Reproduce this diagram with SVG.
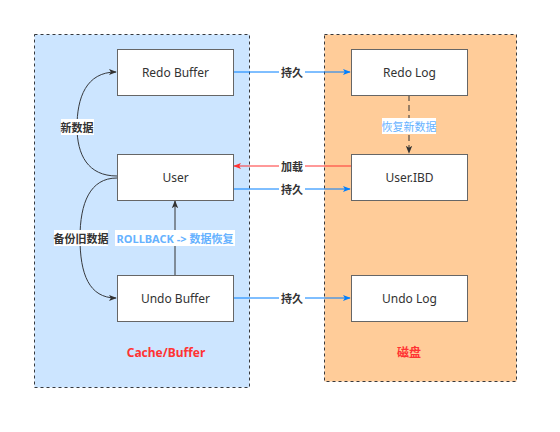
<svg xmlns="http://www.w3.org/2000/svg" width="560" height="432" viewBox="0 0 560 432">
<style>
.cont{stroke:#36393d;stroke-width:1;stroke-dasharray:3 3}
.box rect{fill:#fff;stroke:#666;stroke-width:1}
.box text{font-family:"Noto Sans","Noto Sans CJK SC",sans-serif;font-size:12px;fill:#333;text-anchor:middle;dominant-baseline:central}
.lbl{font-family:"Noto Sans","Noto Sans CJK SC",sans-serif;font-size:11px;text-anchor:middle;dominant-baseline:central}
.b{font-weight:bold}
.dark{fill:#333}
.blue{fill:#66B2FF}
.red{fill:#FF3333}
.e{fill:none;stroke-width:1}
</style>
<defs>
<marker id="ad" viewBox="0 0 10 10" refX="9" refY="5" markerWidth="8" markerHeight="8" orient="auto" markerUnits="userSpaceOnUse"><path d="M0,1 L10,5 L0,9 L2.5,5 Z" fill="#333"/></marker>
<marker id="ab" viewBox="0 0 10 10" refX="9" refY="5" markerWidth="8" markerHeight="8" orient="auto" markerUnits="userSpaceOnUse"><path d="M0,1 L10,5 L0,9 L2.5,5 Z" fill="#007FFF"/></marker>
<marker id="ar" viewBox="0 0 10 10" refX="9" refY="5" markerWidth="8" markerHeight="8" orient="auto" markerUnits="userSpaceOnUse"><path d="M0,1 L10,5 L0,9 L2.5,5 Z" fill="#FF3333"/></marker>
</defs>
<g id="cache">
<rect class="cont" x="34.5" y="34.5" width="215" height="353" fill="#cce5ff"/>
<text class="lbl b red" x="166" y="352" style="font-size:12px">Cache/Buffer</text>
</g>
<g id="disk">
<rect class="cont" x="324.5" y="34.5" width="192" height="347" fill="#ffcc99"/>
<text class="lbl b red" x="409" y="352" style="font-size:12px">磁盘</text>
</g>
<g id="connectors">
<path class="e" stroke="#007FFF" d="M233,72 H350" marker-end="url(#ab)"/>
<path class="e" stroke="#FF3333" d="M351,166 H234" marker-end="url(#ar)"/>
<path class="e" stroke="#007FFF" d="M233,189 H350" marker-end="url(#ab)"/>
<path class="e" stroke="#007FFF" d="M233,298 H350" marker-end="url(#ab)"/>
<path class="e" stroke="#333" stroke-dasharray="6 4" d="M409,95 V153" marker-end="url(#ad)"/>
<path class="e" stroke="#333" d="M175,275 V201" marker-end="url(#ad)"/>
<path class="e" stroke="#36393d" d="M117,176 C88,176 77,155 77,127 C77,98 86,72 116,72" marker-end="url(#ad)"/>
<path class="e" stroke="#36393d" d="M117,178 C90,178 80,203 80,238 C80,274 89,298 116,298" marker-end="url(#ad)"/>
<rect x="279" y="64" width="26" height="16" fill="#fff"/>
<text class="lbl b dark" x="292" y="72">持久</text>
<rect x="279" y="158" width="26" height="16" fill="#fff"/>
<text class="lbl b dark" x="292" y="166">加载</text>
<rect x="279" y="181" width="26" height="16" fill="#fff"/>
<text class="lbl b dark" x="292" y="189">持久</text>
<rect x="279" y="290" width="26" height="16" fill="#fff"/>
<text class="lbl b dark" x="292" y="298">持久</text>
<rect x="382" y="118" width="54" height="16" fill="#fff"/>
<text class="lbl blue" x="409" y="126">恢复新数据</text>
<rect x="61" y="119" width="33" height="16" fill="#fff"/>
<text class="lbl b dark" x="77" y="127">新数据</text>
<rect x="54" y="230" width="54" height="16" fill="#fff"/>
<text class="lbl b dark" x="81" y="238">备份旧数据</text>
<rect x="115" y="230" width="120" height="16" fill="#fff"/>
<text class="lbl b blue" x="175" y="238">ROLLBACK -&gt; 数据恢复</text>
</g>
<g id="redo-buffer" class="box"><rect x="117.5" y="49.5" width="116" height="46"/><text x="175.5" y="72.5">Redo Buffer</text></g>
<g id="user" class="box"><rect x="117.5" y="154.5" width="116" height="46"/><text x="175.5" y="177.5">User</text></g>
<g id="undo-buffer" class="box"><rect x="117.5" y="275.5" width="116" height="46"/><text x="175.5" y="298.5">Undo Buffer</text></g>
<g id="redo-log" class="box"><rect x="351.5" y="49.5" width="116" height="46"/><text x="409.5" y="72.5">Redo Log</text></g>
<g id="user-ibd" class="box"><rect x="351.5" y="154.5" width="116" height="46"/><text x="409.5" y="177.5">User.IBD</text></g>
<g id="undo-log" class="box"><rect x="351.5" y="275.5" width="116" height="46"/><text x="409.5" y="298.5">Undo Log</text></g>
</svg>
